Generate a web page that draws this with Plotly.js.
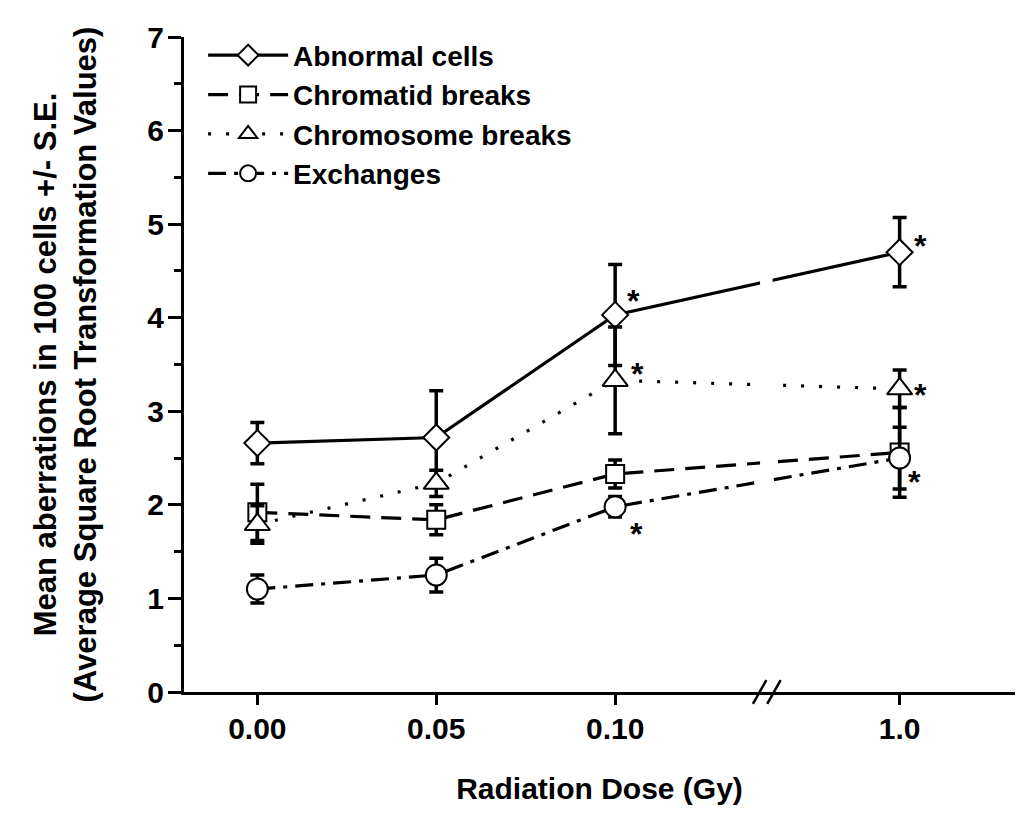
<!DOCTYPE html>
<html>
<head>
<meta charset="utf-8">
<script src="https://cdn.plot.ly/plotly-3.0.1.min.js"></script>
<style>html,body{margin:0;padding:0;background:#fff;}#chart{width:1024px;height:816px;}</style>
</head>
<body>
<div id="chart"></div>
<script>
// ---- data ----
var doses = ['0.00', '0.05', '0.10', '1.0'];
var seriesNames = ['Abnormal cells', 'Chromatid breaks', 'Chromosome breaks', 'Exchanges'];

var abnormal = [2.66, 2.72, 4.03, 4.70];
var abnormalSE = [0.22, 0.50, 0.54, 0.37];
var abnormalSig = [false, false, true, true];

var chromatid = [1.92, 1.84, 2.33, 2.56];
var chromatidSE = [0.30, 0.16, 0.15, 0.48];
var chromatidSig = [false, false, false, false];

var chromosome = [1.79, 2.23, 3.33, 3.24];
var chromosomeSE = [0.20, 0.14, 0.57, 0.20];
var chromosomeSig = [false, false, true, true];

var exchanges = [1.10, 1.25, 1.98, 2.50];
var exchangesSE = [0.15, 0.18, 0.11, 0.33];
var exchangesSig = [false, false, true, true];

// ---- layout helpers ----
var BREAK_GAP = 0.59; // extra spacing after the axis break
var xpos = doses.map(function (d, i) { return i < 3 ? i : i + BREAK_GAP; });

var FONT = 'Liberation Sans, Arial, Helvetica, sans-serif';

var styles = [
  {symbol: 'diamond', size: 20, dash: 'solid'},
  {symbol: 'square', size: 18, dash: '20px,11px'},
  {symbol: 'triangle-up', size: 22, dash: '3px,15px'},
  {symbol: 'circle', size: 21, dash: '18px,8px,4px,8px'}
];
var values = [abnormal, chromatid, chromosome, exchanges];
var errors = [abnormalSE, chromatidSE, chromosomeSE, exchangesSE];
var sigs = [abnormalSig, chromatidSig, chromosomeSig, exchangesSig];

var traces = values.map(function (v, k) {
  return {
    type: 'scatter', mode: 'lines+markers', name: seriesNames[k],
    x: xpos, y: v,
    line: {color: '#000', width: 3.2, dash: styles[k].dash},
    marker: {symbol: styles[k].symbol, size: styles[k].size, color: '#fff',
             line: {color: '#000', width: 2}},
    error_y: {type: 'data', array: errors[k], visible: true, color: '#000',
              thickness: 3.5, width: 7},
    cliponaxis: false
  };
});

// significance asterisks
var starShift = [
  [[0,0],[0,0],[18,20],[21,12]],
  [[0,0],[0,0],[0,0],[0,0]],
  [[0,0],[0,0],[22,12],[21,0]],
  [[0,0],[0,0],[21,-21],[15,-18]]
];
var annotations = [];
sigs.forEach(function (s, k) {
  s.forEach(function (flag, i) {
    if (!flag) return;
    annotations.push({
      x: xpos[i], y: values[k][i], xref: 'x', yref: 'y', text: '*',
      showarrow: false, xshift: starShift[k][i][0], yshift: starShift[k][i][1] - 6,
      font: {family: FONT, size: 32, weight: 'bold', color: '#000'}
    });
  });
});

var shapes = [
  // gap in the data lines at the axis break
  {type: 'rect', xref: 'x', yref: 'y', x0: 2.81, x1: 2.88, y0: 0.3, y1: 6.8,
   fillcolor: '#fff', line: {width: 0}, layer: 'above'},
  // axis break marks
  {type: 'line', xref: 'x', yref: 'paper', x0: 2.77, x1: 2.845, y0: -0.018, y1: 0.018,
   line: {color: '#000', width: 2.5}},
  {type: 'line', xref: 'x', yref: 'paper', x0: 2.85, x1: 2.925, y0: -0.018, y1: 0.018,
   line: {color: '#000', width: 2.5}}
];

var layout = {
  width: 1024, height: 816,
  margin: {l: 184, r: 9, t: 37, b: 124},
  paper_bgcolor: '#fff', plot_bgcolor: '#fff',
  font: {family: FONT, size: 30, color: '#000', weight: 'bold'},
  showlegend: true,
  legend: {x: 0.023, y: 1.01, xanchor: 'left', yanchor: 'top', bgcolor: 'rgba(0,0,0,0)',
           font: {family: FONT, size: 28, weight: 'bold'}, itemwidth: 80,
           tracegroupgap: 0},
  xaxis: {
    range: [-0.41, 4.235], showgrid: false, zeroline: false,
    showline: true, linecolor: '#000', linewidth: 3,
    ticks: 'outside', ticklen: 10, tickwidth: 3, tickcolor: '#000',
    tickvals: xpos, ticktext: doses, ticklabelstandoff: -2,
    tickfont: {family: FONT, size: 30, weight: 'bold'},
    title: {text: 'Radiation Dose (Gy)', standoff: 34,
            font: {family: FONT, size: 30, weight: 'bold'}}
  },
  yaxis: {
    range: [0, 7], showgrid: false, zeroline: false,
    showline: true, linecolor: '#000', linewidth: 3,
    ticks: 'outside', ticklen: 13, tickwidth: 3, tickcolor: '#000', dtick: 1,
    minor: {dtick: 0.5, ticks: 'outside', ticklen: 7, tickwidth: 3, tickcolor: '#000', showgrid: false},
    ticklabelstandoff: -2,
    tickfont: {family: FONT, size: 30, weight: 'bold'},
    title: {text: 'Mean aberrations in 100 cells +/- S.E.<br>(Average Square Root Transformation Values)',
            standoff: 42, font: {family: FONT, size: 31, weight: 'bold'}}
  },
  annotations: annotations,
  shapes: shapes
};

Plotly.newPlot('chart', traces, layout, {displayModeBar: false, staticPlot: true});
</script>
</body>
</html>
